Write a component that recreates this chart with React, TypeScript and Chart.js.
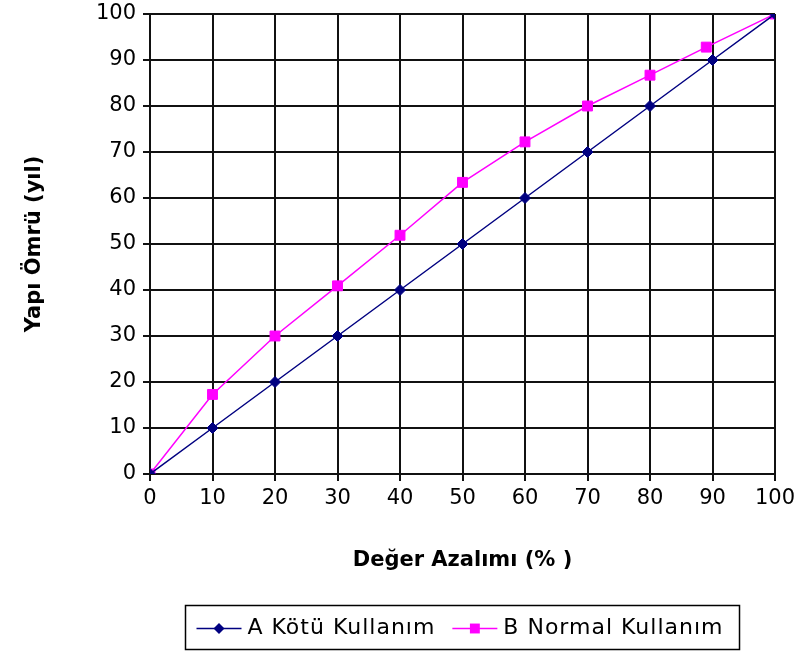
import React, { useEffect, useRef } from "react";
import { Chart, registerables } from "chart.js";

Chart.register(...registerables);

// Değer azalımı (%) — x values
const lossPercentA = [0, 10, 20, 30, 40, 50, 60, 70, 80, 90, 100];
const lossPercentB = [0, 10, 20, 30, 40, 50, 60, 70, 80, 89, 100];

// Yapı ömrü (yıl)
const lifeYearsA = [0, 10, 20, 30, 40, 50, 60, 70, 80, 90, 100];
const lifeYearsB = [0, 17.3, 30, 40.9, 51.9, 63.4, 72.2, 80, 86.7, 92.8, 100];

const seriesNames = ["A Kötü Kullanım", "B Normal Kullanım"];
const xTitle = "Değer Azalımı (% )";
const yTitle = "Yapı Ömrü (yıl)";

const FONT = "'DejaVu Sans', 'Liberation Sans', Arial, sans-serif";
const NAVY = "#000080";
const MAGENTA = "#FF00FF";

// Boxed legend drawn beneath the axis title, each entry a line with its marker
const boxedLegend = {
  id: "boxedLegend",
  afterDraw(chart: any) {
    const ctx = chart.ctx as CanvasRenderingContext2D;
    const area = chart.chartArea;
    const datasets = chart.data.datasets;
    ctx.save();
    ctx.font = `22px ${FONT}`;
    (ctx as any).letterSpacing = "1px";
    const lineLen = 45;
    const gapText = 6;
    const gapItem = 17;
    const padL = 11;
    const padR = 16;
    const widths = datasets.map((d: any) => ctx.measureText(d.label).width);
    let total = padL + padR;
    widths.forEach((w: number, i: number) => {
      total += lineLen + gapText + w + (i > 0 ? gapItem : 0);
    });
    const cx = (area.left + area.right) / 2;
    const left = Math.round(cx - total / 2) + 0.5;
    const top = chart.height - 47 + 0.5;
    const h = 44;
    ctx.strokeStyle = "#000";
    ctx.lineWidth = 1.5;
    ctx.strokeRect(left, top, total, h);
    const midY = top + h / 2 + 1;
    let x = left + padL;
    datasets.forEach((d: any, i: number) => {
      if (i > 0) x += gapItem;
      ctx.strokeStyle = d.borderColor;
      ctx.lineWidth = 1.5;
      ctx.beginPath();
      ctx.moveTo(x, midY);
      ctx.lineTo(x + lineLen, midY);
      ctx.stroke();
      ctx.fillStyle = d.pointBackgroundColor;
      const mx = x + lineLen / 2;
      if (d.pointStyle === "rectRot") {
        const r = d.pointRadius;
        ctx.beginPath();
        ctx.moveTo(mx - r, midY);
        ctx.lineTo(mx, midY - r);
        ctx.lineTo(mx + r, midY);
        ctx.lineTo(mx, midY + r);
        ctx.closePath();
        ctx.fill();
      } else {
        const s = Math.SQRT1_2 * d.pointRadius;
        ctx.fillRect(mx - s, midY - s, 2 * s, 2 * s);
      }
      x += lineLen + gapText;
      ctx.fillStyle = "#000";
      ctx.textBaseline = "middle";
      ctx.textAlign = "left";
      ctx.fillText(d.label, x, midY);
      x += widths[i];
    });
    ctx.restore();
  },
};

export default function App() {
  const canvasRef = useRef<HTMLCanvasElement | null>(null);

  useEffect(() => {
    if (!canvasRef.current) return;
    const chart = new Chart(canvasRef.current, {
      type: "line",
      data: {
        datasets: [
          {
            label: seriesNames[0],
            data: lossPercentA.map((x, i) => ({ x, y: lifeYearsA[i] })),
            borderColor: NAVY,
            backgroundColor: NAVY,
            pointBackgroundColor: NAVY,
            pointBorderColor: NAVY,
            borderWidth: 1.5,
            pointStyle: "rectRot",
            pointRadius: 5.5,
            pointBorderWidth: 1,
            tension: 0,
          } as any,
          {
            label: seriesNames[1],
            data: lossPercentB.map((x, i) => ({ x, y: lifeYearsB[i] })),
            borderColor: MAGENTA,
            backgroundColor: MAGENTA,
            pointBackgroundColor: MAGENTA,
            pointBorderColor: MAGENTA,
            borderWidth: 1.5,
            pointStyle: "rect",
            pointRadius: 7,
            pointBorderWidth: 1,
            tension: 0,
          } as any,
        ],
      },
      options: {
        responsive: false,
        animation: false,
        layout: { padding: { left: 0, right: 19, top: 14, bottom: 72 } },
        plugins: {
          legend: { display: false },
          tooltip: { enabled: false },
        },
        scales: {
          x: {
            type: "linear",
            min: 0,
            max: 100,
            afterFit(scale: any) {
              scale.height = 106;
              scale.paddingLeft = 0;
              scale.paddingRight = 0;
            },
            ticks: {
              stepSize: 10,
              padding: 5,
              color: "#000",
              font: { family: FONT, size: 21 },
              maxRotation: 0,
            },
            grid: { color: "#111", lineWidth: 2, tickLength: 7 },
            border: { color: "#111", width: 2 },
            title: {
              display: true,
              text: xTitle,
              color: "#000",
              font: { family: FONT, size: 21, weight: "bold" },
              padding: { top: 0, bottom: 7 },
            },
          },
          y: {
            min: 0,
            max: 100,
            afterFit(scale: any) {
              scale.width = 150;
              scale.paddingTop = 0;
              scale.paddingBottom = 0;
            },
            ticks: {
              stepSize: 10,
              padding: 7,
              color: "#000",
              font: { family: FONT, size: 21 },
            },
            grid: { color: "#111", lineWidth: 2, tickLength: 7 },
            border: { color: "#111", width: 2 },
            title: {
              display: true,
              text: yTitle,
              color: "#000",
              font: { family: FONT, size: 21, weight: "bold" },
              padding: { top: 22, bottom: 0 },
            },
          },
        },
      } as any,
      plugins: [boxedLegend],
    });
    return () => chart.destroy();
  }, []);

  return (
    <div style={{ position: "fixed", left: 0, top: 0, width: 794, height: 652, background: "#fff" }}>
      <canvas ref={canvasRef} width={794} height={652} />
    </div>
  );
}
